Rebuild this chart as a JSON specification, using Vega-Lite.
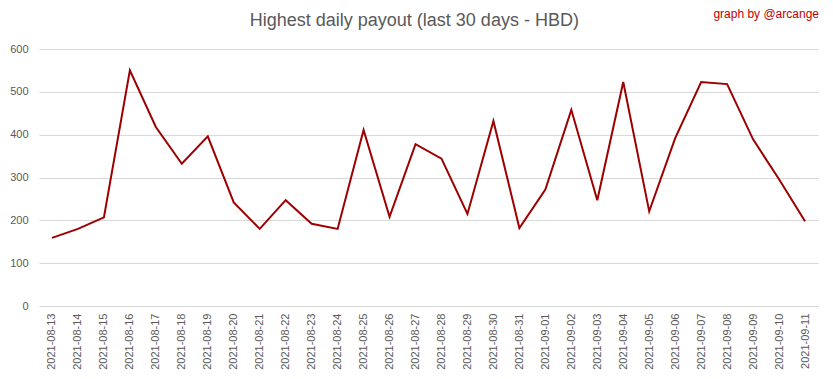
{
  "$schema": "https://vega.github.io/schema/vega-lite/v6.json",
  "background": "white",
  "padding": {"left": 9, "right": 15, "top": 8, "bottom": 7},
  "title": {"text": "Highest daily payout (last 30 days - HBD)", "anchor": "middle", "frame": "bounds", "font": "Liberation Sans", "fontSize": 18, "fontWeight": "normal", "color": "#595959", "offset": 0, "dy": 22},
  "vconcat": [
    {
      "width": 779,
      "height": 257,
      "title": {"text": "graph by @arcange", "anchor": "end", "font": "Liberation Sans", "fontSize": 12, "fontWeight": "normal", "color": "#c00000", "dx": 1, "offset": 22},
      "data": {"values": [
        {"date": "2021-08-13", "payout": 159},
        {"date": "2021-08-14", "payout": 180},
        {"date": "2021-08-15", "payout": 207},
        {"date": "2021-08-16", "payout": 550},
        {"date": "2021-08-17", "payout": 418},
        {"date": "2021-08-18", "payout": 332},
        {"date": "2021-08-19", "payout": 396},
        {"date": "2021-08-20", "payout": 242},
        {"date": "2021-08-21", "payout": 180},
        {"date": "2021-08-22", "payout": 247},
        {"date": "2021-08-23", "payout": 192},
        {"date": "2021-08-24", "payout": 180},
        {"date": "2021-08-25", "payout": 411},
        {"date": "2021-08-26", "payout": 208},
        {"date": "2021-08-27", "payout": 378},
        {"date": "2021-08-28", "payout": 344},
        {"date": "2021-08-29", "payout": 215},
        {"date": "2021-08-30", "payout": 432},
        {"date": "2021-08-31", "payout": 182},
        {"date": "2021-09-01", "payout": 272},
        {"date": "2021-09-02", "payout": 458},
        {"date": "2021-09-03", "payout": 247},
        {"date": "2021-09-04", "payout": 523},
        {"date": "2021-09-05", "payout": 221},
        {"date": "2021-09-06", "payout": 392},
        {"date": "2021-09-07", "payout": 523},
        {"date": "2021-09-08", "payout": 518},
        {"date": "2021-09-09", "payout": 389},
        {"date": "2021-09-10", "payout": 296},
        {"date": "2021-09-11", "payout": 198}
      ]},
      "mark": {"type": "line", "color": "#9c0000", "strokeWidth": 2},
      "encoding": {
        "x": {"field": "date", "type": "ordinal", "sort": null, "scale": {"type": "point", "padding": 0.5},
          "axis": {"title": null, "labelAngle": -90, "labelFont": "Liberation Sans", "labelFontSize": 11, "labelColor": "#595959", "ticks": false, "domain": false, "grid": false, "labelPadding": 7}},
        "y": {"field": "payout", "type": "quantitative", "scale": {"domain": [0, 600]},
          "axis": {"title": null, "values": [0, 100, 200, 300, 400, 500, 600], "labelFont": "Liberation Sans", "labelFontSize": 11, "labelColor": "#595959", "ticks": false, "domain": false, "gridColor": "#d9d9d9", "labelPadding": 11}}
      }
    }
  ],
  "config": {"view": {"stroke": null}}
}
